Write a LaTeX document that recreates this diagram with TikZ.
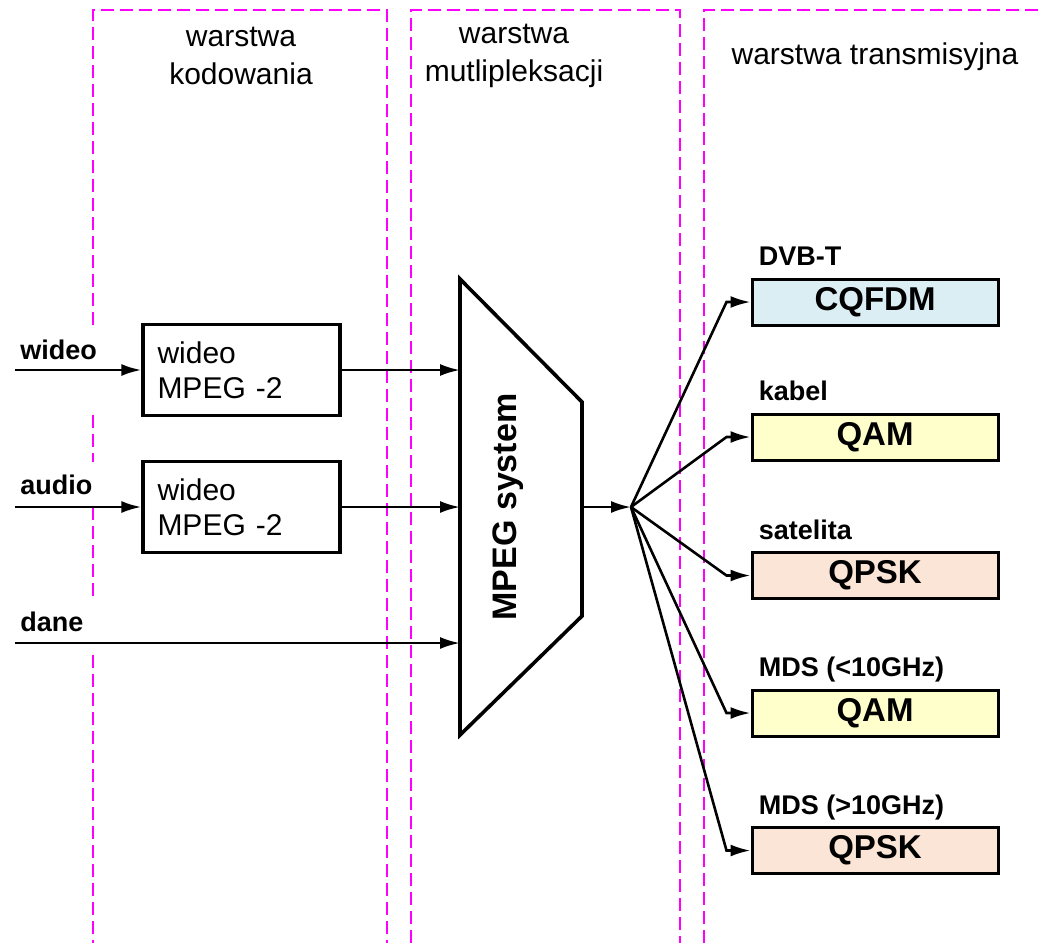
\documentclass[tikz,border=0pt]{standalone}
\usepackage{fontspec}
\setmainfont{Liberation Sans}
\usetikzlibrary{arrows.meta, positioning}
\definecolor{layer}{RGB}{255, 0, 255}
\definecolor{dvbt}{RGB}{218, 238, 243}
\definecolor{cable}{RGB}{255, 255, 204}
\definecolor{sat}{RGB}{251, 229, 214}

\begin{document}
\begin{tikzpicture}[x=0.5pt, y=-0.5pt,
  layerline/.style={draw=layer, line width=1.4pt, dash pattern=on 6.5pt off 3pt},
  conn/.style={line width=1.3pt, -{Latex[length=10pt, width=6pt]}},
  codebox/.style={draw, line width=1.6pt, minimum width=98.5pt, minimum height=45.5pt,
    text width=84pt, align=left, font=\fontsize{15}{17.5}\selectfont},
  modbox/.style={draw, line width=1.5pt, minimum width=123pt, minimum height=23pt,
    font=\bfseries\fontsize{16.5}{18}\selectfont},
  sigtext/.style={font=\bfseries\fontsize{13.5}{16}\selectfont, inner sep=0pt},
  headtext/.style={font=\fontsize{15}{19}\selectfont, align=center}]

  \useasboundingbox (0,0) rectangle (1042,943);

  % warstwy
  \draw[layerline] (93,325) -- (93,10) -- (387,10) -- (387,943);
  \draw[layerline] (93,415) -- (93,462);
  \draw[layerline] (93,507) -- (93,600);
  \draw[layerline] (93,655) -- (93,943);
  \draw[layerline] (411,943) -- (411,10) -- (680,10) -- (680,943);
  \draw[layerline] (704,943) -- (704,10) -- (1042,10);

  \node[headtext] (hkod) at (241,56) {warstwa\\kodowania};
  \node[headtext] (hmux) at (514,56) {warstwa\\mutlipleksacji};
  \node[headtext] (htr) at (875,57) {warstwa transmisyjna};

  % kodery
  \node[codebox] (enc1) at (241.5,370) {wideo\\MPEG -2};
  \node[codebox] (enc2) at (241.5,507) {wideo\\MPEG -2};

  \coordinate (in1) at (15,370);
  \coordinate (in2) at (15,507);
  \coordinate (in3) at (15,643);
  \node[sigtext, anchor=base west] (lwideo) at (20,359) {wideo};
  \node[sigtext, anchor=base west] (laudio) at (20,494) {audio};
  \node[sigtext, anchor=base west] (ldane) at (20,631) {dane};

  % multiplekser
  \coordinate (muxnw) at (460,279);
  \coordinate (muxsw) at (460,735);
  \coordinate (muxne) at (582,402);
  \coordinate (muxse) at (582,616);
  \draw[line width=1.8pt, line join=miter] (muxnw) -- (muxne) -- (muxse) -- (muxsw) -- cycle;
  \node[rotate=90, font=\bfseries\fontsize{17}{20}\selectfont] (mux) at (508,507) {MPEG system};

  \draw[conn] (in1) -- (enc1);
  \draw[conn] (in2) -- (enc2);
  \draw[conn] (enc1) -- (enc1 -| muxnw);
  \draw[conn] (enc2) -- (enc2 -| muxnw);
  \draw[conn] (in3) -- (in3 -| muxnw);

  \coordinate (hub) at (631,507);
  \draw[conn] (muxse |- hub) -- (hub);

  % modulacje
  \node[modbox, fill=dvbt] (cq) at (875,302) {CQFDM};
  \node[modbox, fill=cable] (qam1) at (875,437) {QAM};
  \node[modbox, fill=sat] (qpsk1) at (875,575.5) {QPSK};
  \node[modbox, fill=cable] (qam2) at (875,713) {QAM};
  \node[modbox, fill=sat] (qpsk2) at (875,850.5) {QPSK};

  \node[sigtext, anchor=base west] (tdvb) at ([xshift=4pt, yshift=6pt]cq.north west) {DVB-T};
  \node[sigtext, anchor=base west] (tkab) at ([xshift=4pt, yshift=6pt]qam1.north west) {kabel};
  \node[sigtext, anchor=base west] (tsat) at ([xshift=4pt, yshift=6pt]qpsk1.north west) {satelita};
  \node[sigtext, anchor=base west] (tmds1) at ([xshift=4pt, yshift=6pt]qam2.north west) {MDS (<10GHz)};
  \node[sigtext, anchor=base west] (tmds2) at ([xshift=4pt, yshift=6pt]qpsk2.north west) {MDS (>10GHz)};

  \draw[conn] (hub) -- ([xshift=-12pt]cq.west) -- (cq.west);
  \draw[conn] (hub) -- ([xshift=-12pt]qam1.west) -- (qam1.west);
  \draw[conn] (hub) -- ([xshift=-12pt]qpsk1.west) -- (qpsk1.west);
  \draw[conn] (hub) -- ([xshift=-12pt]qam2.west) -- (qam2.west);
  \draw[conn] (hub) -- ([xshift=-12pt]qpsk2.west) -- (qpsk2.west);

\end{tikzpicture}
\end{document}
